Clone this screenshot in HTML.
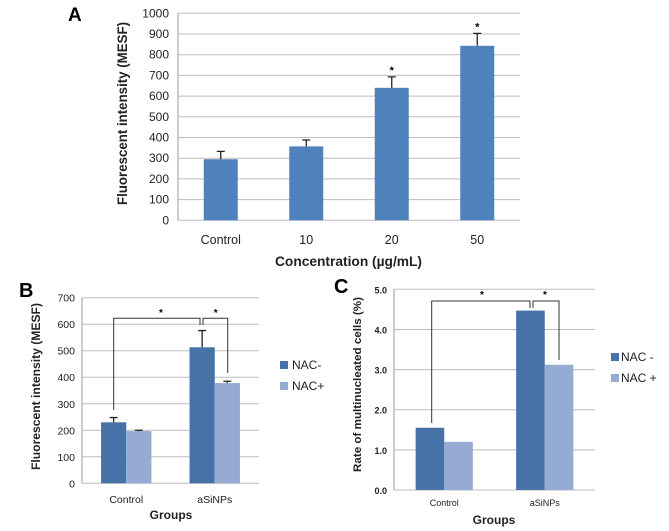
<!DOCTYPE html>
<html><head><meta charset="utf-8"><style>
body{margin:0;background:#fff}
svg{display:block;font-family:"Liberation Sans",sans-serif}
</style></head><body>
<svg id="s" width="669" height="531" viewBox="0 0 669 531" xmlns="http://www.w3.org/2000/svg"></svg>
<script>
// Panel A data
const aCats=["Control","10","20","50"];
const aVals=[295,357,640,843];
const aErr=[333,388,693,903];
const aTicks=[0,100,200,300,400,500,600,700,800,900,1000];
// Panel B data
const bCats=["Control","aSiNPs"];
const bNacMinus=[230,513];
const bNacPlus=[197,378];
const bErrMinus=[248,576];
const bErrPlus=[200,385];
const bTicks=[0,100,200,300,400,500,600,700];
// Panel C data
const cCats=["Control","aSiNPs"];
const cNacMinus=[1.55,4.47];
const cNacPlus=[1.2,3.12];
const cTicks=[0,1,2,3,4,5];

const S=document.getElementById('s');
const NS="http://www.w3.org/2000/svg";
function el(t,a,txt){const e=document.createElementNS(NS,t);for(const k in a)e.setAttribute(k,a[k]);if(txt!==undefined)e.textContent=txt;S.appendChild(e);return e;}

function axes(o){
  const y=v=>o.y0-(v-o.vmin)/(o.vmax-o.vmin)*(o.y0-o.y1);
  o.ticks.forEach((t,i)=>{
    const g=el('line',{x1:o.x0,x2:o.x1,y1:y(t),y2:y(t),stroke:'#bdbdbd','stroke-width':1});
    
    
    const l=el('text',{x:o.x0-(o.tgap||7),y:y(t)+4,'text-anchor':'end','font-size':o.tfs,fill:'#222','font-weight':o.tfw||'normal'},o.fmt(t));
    
    
  });
  const ax=el('line',{x1:o.x0,x2:o.x0,y1:o.y1,y2:o.y0,stroke:'#9a9a9a'});
  
  
  return y;
}
function bar(x,w,yf,v,fill,name){
  const r=el('rect',{x:x,y:yf(v),width:w,height:yf(0)-yf(v),fill:fill});
  
  
}
function err(cx,yf,v,e){
  const p=el('path',{d:`M${cx} ${yf(v)}V${yf(e)}M${cx-4} ${yf(e)}H${cx+4}`,stroke:'#222','stroke-width':1.3,fill:'none'});
  
  
}

// ---- Panel A
(function(){
  const o={x0:178,x1:520,y0:220.3,y1:13.3,vmin:0,vmax:1000,ticks:aTicks,tfs:12,tgap:9,fmt:t=>String(t)};
  const y=axes(o);
  const cw=(o.x1-o.x0)/aCats.length,bw=34;
  aCats.forEach((c,i)=>{
    const cx=o.x0+cw*(i+0.5);
    bar(cx-bw/2,bw,y,aVals[i],'#4f81bd','bar-a-'+i);
    err(cx,y,aVals[i],aErr[i]);
    const t=el('text',{x:cx,y:244,'text-anchor':'middle','font-size':12.5,fill:'#222'},c);
    
    
    if(i>=2){const s=el('text',{x:cx,y:y(aErr[i])-3,'text-anchor':'middle','font-size':11,'font-weight':'bold'},'*');
      
      }
  });
  el('text',{x:275,y:266,'font-size':14,'font-weight':'bold',fill:'#222',textLength:147,lengthAdjust:'spacingAndGlyphs'},'Concentration (µg/mL)');
  el('text',{x:0,y:0,transform:'translate(127,205) rotate(-90)','font-size':14,'font-weight':'bold',fill:'#222',textLength:183,lengthAdjust:'spacingAndGlyphs'},'Fluorescent intensity (MESF)');
  el('text',{x:68,y:21,'font-size':19,'font-weight':'bold'},'A');
})();

// ---- Panel B
(function(){
  const o={x0:82,x1:259,y0:483.3,y1:297.7,vmin:0,vmax:700,ticks:bTicks,tfs:10.5,fmt:t=>String(t)};
  const y=axes(o);
  const cw=(o.x1-o.x0)/bCats.length,bw=25.2;
  bCats.forEach((c,i)=>{
    const cx=o.x0+cw*(i+0.5);
    bar(cx-bw,bw,y,bNacMinus[i],'#4672a8','bar-b-nac-minus-'+i);
    bar(cx,bw,y,bNacPlus[i],'#95abd3','bar-b-nac-plus-'+i);
    err(cx-bw/2,y,bNacMinus[i],bErrMinus[i]);
    err(cx+bw/2,y,bNacPlus[i],bErrPlus[i]);
    const t=el('text',{x:cx,y:503,'text-anchor':'middle','font-size':10.5,fill:'#222'},c);
    
    
  });
  el('path',{d:'M113.7 410V318.3H200V325M203 325V318.3H227.7V373',stroke:'#333',fill:'none','stroke-width':1});
  el('text',{x:161,y:316,'text-anchor':'middle','font-size':10,'font-weight':'bold'},'*');
  el('text',{x:215.7,y:316,'text-anchor':'middle','font-size':10,'font-weight':'bold'},'*');
  el('text',{x:171,y:519,'text-anchor':'middle','font-size':12,'font-weight':'bold',fill:'#222'},'Groups');
  el('text',{x:0,y:0,transform:'translate(40,470) rotate(-90)','font-size':12,'font-weight':'bold',fill:'#222',textLength:167,lengthAdjust:'spacingAndGlyphs'},'Fluorescent intensity (MESF)');
  el('text',{x:19,y:297,'font-size':20,'font-weight':'bold'},'B');
  el('rect',{x:280,y:361,width:8,height:8,fill:'#4672a8'});
  el('text',{x:292,y:369,'font-size':12,fill:'#222'},'NAC-');
  el('rect',{x:280,y:382,width:8,height:8,fill:'#95abd3'});
  el('text',{x:292,y:390,'font-size':12,fill:'#222'},'NAC+');
})();

// ---- Panel C
(function(){
  const o={x0:394,x1:595,y0:490,y1:289.3,vmin:0,vmax:5,ticks:cTicks,tfs:9,tfw:'bold',fmt:t=>t.toFixed(1)};
  const y=axes(o);
  const cw=(o.x1-o.x0)/cCats.length,bw=28.6;
  cCats.forEach((c,i)=>{
    const cx=o.x0+cw*(i+0.5);
    bar(cx-bw,bw,y,cNacMinus[i],'#4672a8','bar-c-nac-minus-'+i);
    bar(cx,bw,y,cNacPlus[i],'#95abd3','bar-c-nac-plus-'+i);
    const t=el('text',{x:cx,y:506,'text-anchor':'middle','font-size':9,fill:'#222'},c);
    
    
  });
  el('path',{d:'M431.7 423V301H530V308M533 308V301H559V360',stroke:'#333',fill:'none','stroke-width':1});
  el('text',{x:482,y:298,'text-anchor':'middle','font-size':10,'font-weight':'bold'},'*');
  el('text',{x:545,y:298,'text-anchor':'middle','font-size':10,'font-weight':'bold'},'*');
  el('text',{x:494,y:524,'text-anchor':'middle','font-size':12,'font-weight':'bold',fill:'#222'},'Groups');
  el('text',{x:0,y:0,transform:'translate(361,472) rotate(-90)','font-size':11,'font-weight':'bold',fill:'#222',textLength:175,lengthAdjust:'spacingAndGlyphs'},'Rate of multinucleated cells (%)');
  el('text',{x:334,y:293,'font-size':20,'font-weight':'bold'},'C');
  el('rect',{x:611,y:353,width:8,height:8,fill:'#4672a8'});
  el('text',{x:621,y:361,'font-size':12,fill:'#222'},'NAC -');
  el('rect',{x:611,y:374,width:8,height:8,fill:'#95abd3'});
  el('text',{x:621,y:382,'font-size':12,fill:'#222'},'NAC +');
})();
</script>
</body></html>
